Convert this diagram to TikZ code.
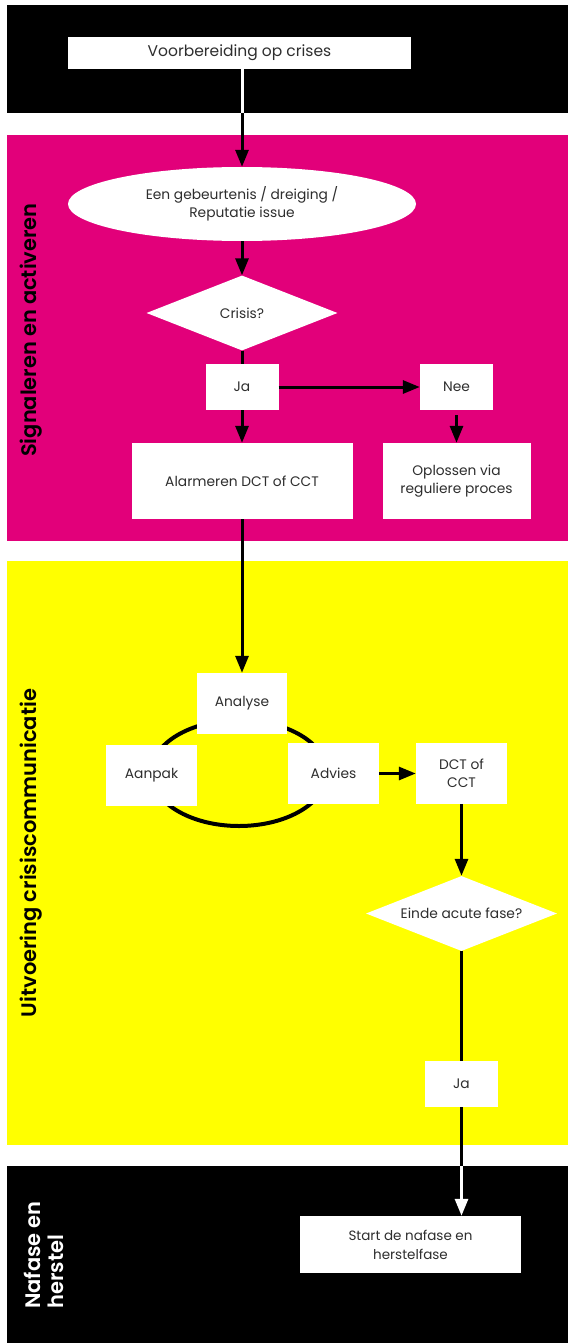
\documentclass[tikz,border=0pt]{standalone}
\usepackage{fontspec}
\setmainfont{Poppins}
\newfontfamily\phasefont{Poppins SemiBold}
\usetikzlibrary{arrows.meta,shapes.geometric}

\definecolor{crisismagenta}{HTML}{E2007A}
\definecolor{crisisyellow}{HTML}{FFFF00}
\definecolor{boxtext}{HTML}{2E2E2E}

\begin{document}
\begin{tikzpicture}[x=1pt,y=-1pt,
  box/.style={rectangle,fill=white,inner sep=0pt,text=boxtext,
              font=\fontsize{13.8}{18}\selectfont,align=center},
  decision/.style={diamond,fill=white,inner sep=0pt,aspect=2.55,text=boxtext,
              font=\fontsize{13.8}{18}\selectfont,align=center},
  phase/.style={rotate=90,font=\phasefont\fontsize{21}{23}\selectfont,align=left},
  flow/.style={line width=3pt,-{Triangle[width=13pt,length=17pt]}},
  plain/.style={line width=3pt},
]
\useasboundingbox (0,0) rectangle (568,1343);

% phase bands
\fill[black]         (7,5)    rectangle (568,113);
\fill[crisismagenta] (7,135)  rectangle (568,541);
\fill[crisisyellow]  (7,561)  rectangle (568,1145);
\fill[black]         (7,1166) rectangle (568,1343);

% phase titles
\node[phase,text=black] (t1) at (31,330) {Signaleren en activeren};
\node[phase,text=black] (t2) at (31,853) {Uitvoering crisiscommunicatie};
\node[phase,text=white] (t3) at (44,1255) {Nafase en\\herstel};

% preparation
\node[box,minimum width=343pt,minimum height=32pt,font=\fontsize{15.5}{18}\selectfont]
      (prep) at (239.5,53) {Voorbereiding op crises};

% signalling and activation
\node[ellipse,fill=white,inner sep=0pt,minimum width=348pt,minimum height=74pt,
      text=boxtext,font=\fontsize{13.8}{18}\selectfont,align=center]
      (event) at (242,204) {Een gebeurtenis / dreiging /\\Reputatie issue};
\node[decision,minimum width=191pt,minimum height=75pt] (crisis) at (242,313) {Crisis?};
\node[box,minimum width=73pt,minimum height=46pt] (ja1) at (242,387) {Ja};
\node[box,minimum width=73pt,minimum height=46pt] (nee) at (456.5,387) {Nee};
\node[box,minimum width=221pt,minimum height=76pt] (alarm) at (242,481) {Alarmeren DCT of CCT};
\node[box,minimum width=148pt,minimum height=76pt] (regular) at (456.5,481) {Oplossen via\\reguliere proces};

% execution cycle
\draw[line width=4pt] (239,773) ellipse [x radius=88pt,y radius=53pt];
\node[box,minimum width=90pt,minimum height=61pt] (analyse) at (242,703.5) {Analyse};
\node[box,minimum width=91pt,minimum height=61pt] (aanpak) at (151.5,775.5) {Aanpak};
\node[box,minimum width=91pt,minimum height=61pt] (advies) at (333.5,773.5) {Advies};
\node[box,minimum width=91pt,minimum height=61pt] (team) at (461.5,773.5) {DCT of\\CCT};
\node[decision,minimum width=191pt,minimum height=75pt] (acute) at (461.5,913.5) {Einde acute fase?};
\node[box,minimum width=73pt,minimum height=46pt] (ja2) at (461.5,1084) {Ja};

% aftercare
\node[box,minimum width=221pt,minimum height=57pt,font=\fontsize{13.5}{19}\selectfont]
      (start) at (410.5,1244.5) {Start de nafase en\\herstelfase};

% band crossings
\coordinate (prepexit) at (event.north |- 0,113);
\coordinate (afterentry) at (ja2.south |- 0,1166);

% connectors
\draw[plain,white] (event.north |- prep.south) -- (prepexit);
\draw[flow] (prepexit) -- (event.north);
\draw[flow] (event.south) -- (crisis.north);
\draw[plain] (crisis.south) -- (ja1.north);
\draw[flow] (ja1.east) -- (nee.west);
\draw[flow] (ja1.south) -- (alarm.north);
\draw[flow,shorten <=5pt] (nee.south) -- (regular.north);
\draw[flow] (alarm.south) -- (analyse.north);
\draw[flow] (advies.east) -- (team.west);
\draw[flow] (team.south) -- (acute.north);
\draw[plain] (acute.south) -- (ja2.north);
\draw[plain] (ja2.south) -- (afterentry);
\draw[flow,white] (afterentry) -- (afterentry |- start.north);
\end{tikzpicture}
\end{document}
